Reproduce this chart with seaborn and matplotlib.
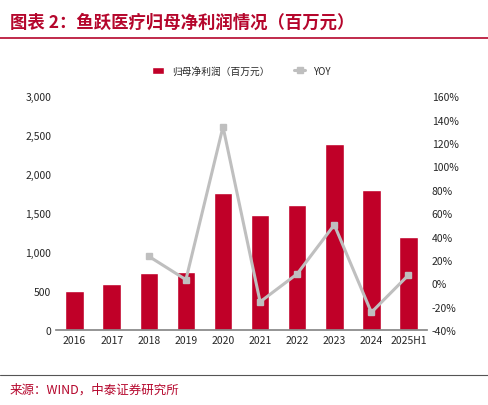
import numpy as np
import matplotlib
matplotlib.use("Agg")
import matplotlib.pyplot as plt
import seaborn as sns

years = ['2016', '2017', '2018', '2019', '2020', '2021', '2022', '2023', '2024', '2025H1']
profit = [500, 590, 730, 750, 1760, 1480, 1600, 2390, 1800, 1200]
yoy = [np.nan, np.nan, 23, 3, 134, -16, 8, 50, -25, 7]

sns.set_theme(style="white")
plt.rcParams['font.family'] = ['Noto Sans CJK SC', 'DejaVu Sans']

fig = plt.figure(figsize=(4.88, 4.06), dpi=100)
ax = fig.add_axes([0.115, 0.185, 0.76, 0.575])
x = np.arange(len(years))
sns.barplot(x=years, y=profit, color='#C00028', width=0.5, ax=ax, label='归母净利润（百万元）',
            saturation=1)
ax.set_ylim(0, 3000)
ax.set_yticks(range(0, 3001, 500))
ax.set_yticklabels([f'{v:,}' for v in range(0, 3001, 500)], fontsize=7.5)
ax.tick_params(axis='both', labelsize=7.5, length=0)
ax.set_xlim(-0.5, len(years) - 0.5)
for s in ['top', 'right', 'left']:
    ax.spines[s].set_visible(False)
ax.spines['bottom'].set_color('#888888')

ax2 = ax.twinx()
ax2.plot(x, yoy, color='#BFBFBF', lw=2.2, marker='s', markersize=5, label='YOY')
ax2.set_ylim(-40, 160)
ax2.set_yticks(range(-40, 161, 20))
ax2.set_yticklabels([f'{v}%' for v in range(-40, 161, 20)], fontsize=7.5)
ax2.tick_params(axis='y', length=0)
for s in ['top', 'right', 'left', 'bottom']:
    ax2.spines[s].set_visible(False)

h1, l1 = ax.get_legend_handles_labels()
h2, l2 = ax2.get_legend_handles_labels()
ax.legend(h1 + h2, l1 + l2, loc='upper center', bbox_to_anchor=(0.5, 1.17), ncol=2,
          frameon=False, fontsize=7, handlelength=1.2, columnspacing=2.5)

fig.text(0.02, 0.945, '图表 2：鱼跃医疗归母净利润情况（百万元）', fontsize=12.5,
         color='#B5062C', fontweight='bold', style='italic', va='center')
fig.add_artist(plt.Line2D([0.0, 1.0], [0.905, 0.905], color='#B5062C', lw=1.2))
fig.add_artist(plt.Line2D([0.0, 1.0], [0.075, 0.075], color='#555555', lw=0.8))
fig.text(0.02, 0.04, '来源：WIND，中泰证券研究所', fontsize=9, color='#B5062C', va='center')

fig.savefig('out.png', dpi=100)
